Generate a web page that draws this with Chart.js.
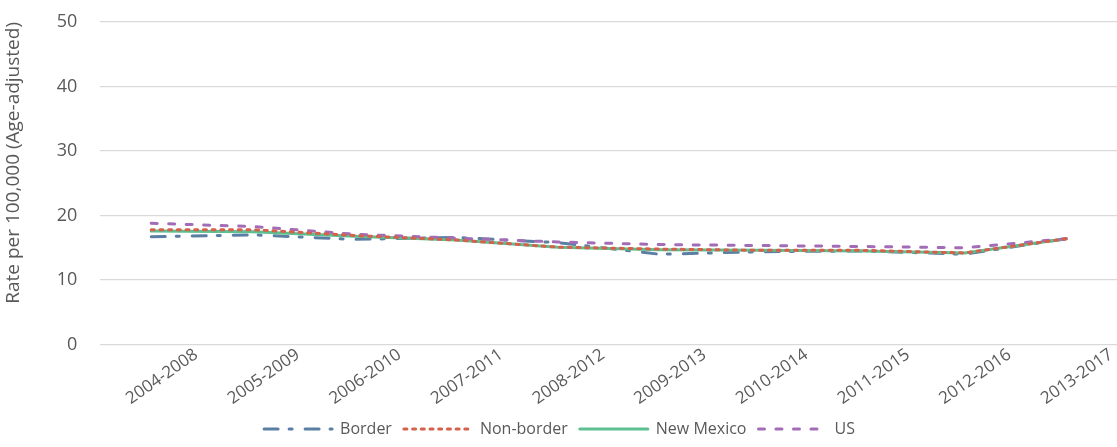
<!DOCTYPE html>
<html>
<head>
<meta charset="utf-8">
<script src="https://cdn.jsdelivr.net/npm/chart.js@4"></script>
<style>
  html, body { margin: 0; padding: 0; background: #fff; }
  #wrap { width: 1117px; height: 447px; position: relative; }
</style>
</head>
<body>
<div id="wrap"><canvas id="rateChart"></canvas></div>
<script>
'use strict';

// Periods (5-year windows)
const periods = ['2004-2008', '2005-2009', '2006-2010', '2007-2011', '2008-2012',
  '2009-2013', '2010-2014', '2011-2015', '2012-2016', '2013-2017'];

// Age-adjusted rate per 100,000
const border = [16.7, 17.0, 16.3, 16.6, 15.8, 14.0, 14.4, 14.5, 14.0, 16.4];
const nonBorder = [17.8, 17.8, 16.9, 16.2, 15.1, 14.8, 14.6, 14.6, 14.2, 16.4];
const newMexico = [17.6, 17.5, 16.8, 16.2, 15.1, 14.7, 14.6, 14.5, 14.2, 16.4];
const us = [18.8, 18.3, 17.1, 16.5, 15.9, 15.5, 15.35, 15.2, 15.0, 16.4];

const yTicks = [0, 10, 20, 30, 40, 50];

const FONT = "'Open Sans', 'Noto Sans', sans-serif";
const TEXT = '#595959';

function lineSet(label, data, color, dash, order) {
  return {
    label,
    data,
    borderColor: color,
    backgroundColor: color,
    borderWidth: 3,
    borderDash: dash,
    borderCapStyle: 'round',
    pointRadius: 0,
    pointHoverRadius: 0,
    tension: 0,
    fill: false,
    order
  };
}

// legend: keep dataset order and show each line's dash
function legendLabels(chart) {
  const items = Chart.defaults.plugins.legend.labels.generateLabels(chart);
  items.forEach(item => {
    const ds = chart.data.datasets[item.datasetIndex];
    item.lineDash = ds.borderDash;
    item.lineCap = 'round';
    item.lineWidth = 3;
    item.strokeStyle = ds.borderColor;
  });
  return items.sort((a, b) => a.datasetIndex - b.datasetIndex);
}

const ctx = document.getElementById('rateChart').getContext('2d');
new Chart(ctx, {
  type: 'line',
  data: {
    labels: periods,
    datasets: [
      lineSet('Border', border, '#5b7ea3', [14, 11, 3, 13], 3),
      lineSet('Non-border', nonBorder, '#d5614a', [3, 5.7], 0),
      lineSet('New Mexico', newMexico, '#5cc091', [], 2),
      lineSet('US', us, '#a36cb6', [6, 11.5], 1)
    ]
  },
  options: {
    responsive: true,
    maintainAspectRatio: false,
    animation: false,
    layout: { padding: { left: 2, right: 0, top: 22, bottom: 0 } },
    plugins: {
      tooltip: { enabled: false },
      legend: {
        position: 'bottom',
        labels: {
          generateLabels: legendLabels,
          usePointStyle: true,
          pointStyle: 'line',
          pointStyleWidth: 68,
          boxHeight: 16,
          padding: 12,
          color: TEXT,
          font: { family: FONT, size: 16 }
        }
      }
    },
    scales: {
      x: {
        offset: true,
        grid: { display: false, drawTicks: false },
        border: { display: false },
        ticks: {
          color: TEXT,
          font: { family: FONT, size: 17 },
          minRotation: 35,
          maxRotation: 35,
          labelOffset: 45,
          padding: 0
        }
      },
      y: {
        min: 0,
        max: 50,
        afterBuildTicks: (axis) => { axis.ticks = yTicks.map(v => ({ value: v })); },
        grid: { color: '#d9d9d9', lineWidth: 1.3, drawTicks: true, tickLength: 23, tickColor: 'rgba(0,0,0,0)' },
        border: { display: false },
        ticks: {
          color: TEXT,
          font: { family: FONT, size: 18 },
          padding: 0
        },
        title: {
          display: true,
          align: 'end',
          text: 'Rate per 100,000 (Age-adjusted)',
          color: TEXT,
          font: { family: FONT, size: 19 },
          padding: { top: 0, bottom: 32 }
        }
      }
    }
  }
});
</script>
</body>
</html>
